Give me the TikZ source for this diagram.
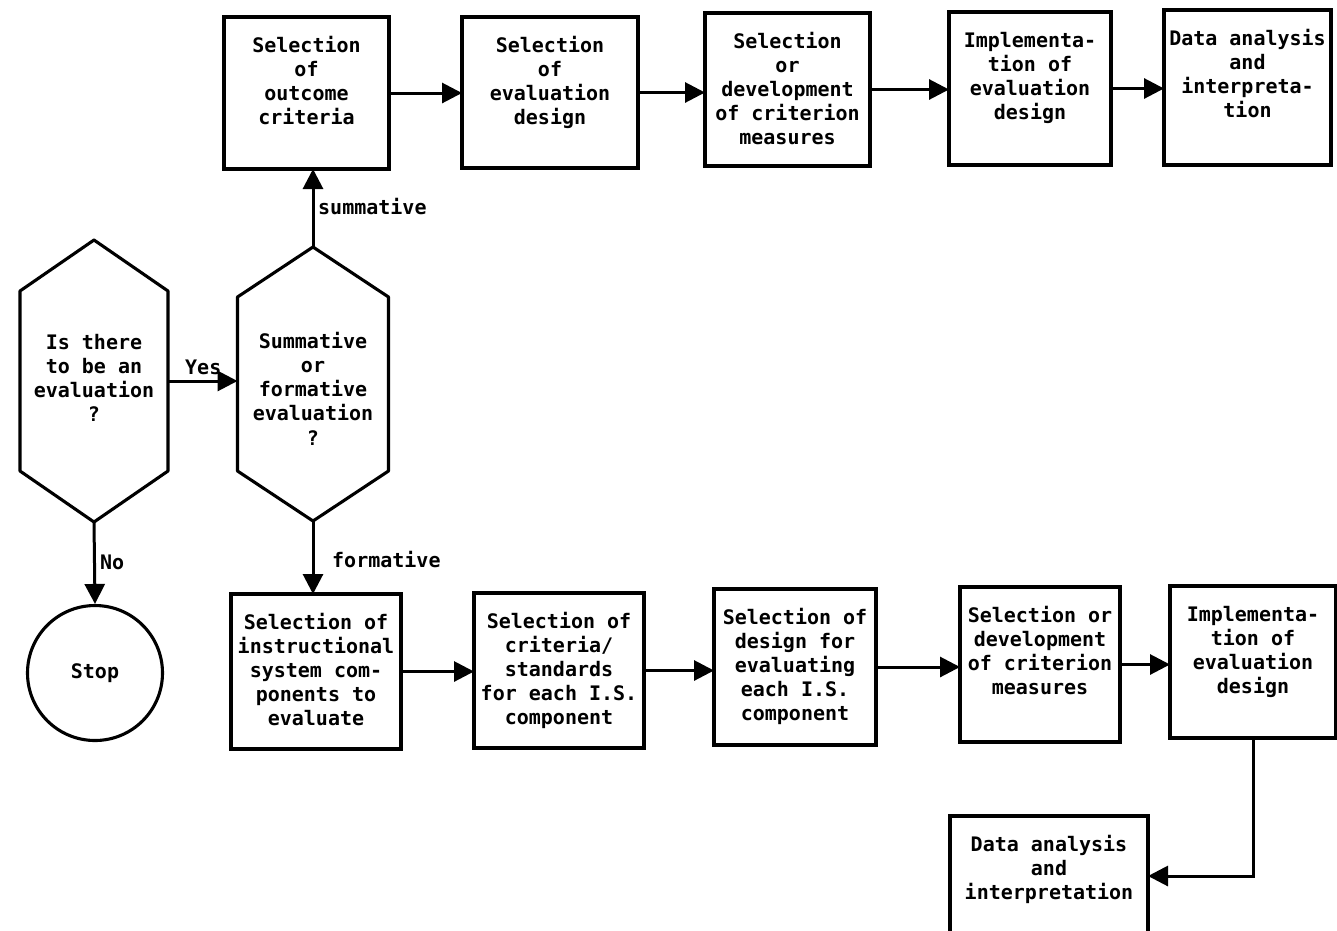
\documentclass[tikz,border=0pt]{standalone}
\usepackage{fontspec}
\setmonofont{DejaVu Sans Mono}
\usetikzlibrary{arrows.meta}
\newcommand{\fs}{\ttfamily\bfseries\fontsize{20}{24.2}\selectfont}
\newcommand{\bxt}[3]{\parbox[c][#1][t]{#2}{\centering\rule{0pt}{35pt}#3\par}}
\newcommand{\hxt}[2]{\raisebox{#1}[0pt][0pt]{\begin{tabular}{@{}c@{}}#2\end{tabular}}}
\tikzset{
  stepbox/.style={draw, line width=3.1pt, inner sep=0pt, outer sep=0pt, font=\fs},
  conn/.style={line width=3pt, -{Triangle[length=20pt,width=20pt]}},
  lbl/.style={font=\fs, inner sep=0pt, anchor=west},
  hexa/.style={inner sep=0pt, outer sep=0pt, align=center, font=\fs},
  hexline/.style={line width=3.1pt, line join=round},
}
\begin{document}
\begin{tikzpicture}[x=1pt,y=-1pt]
\useasboundingbox (0,0) rectangle (1337,930);
\clip (0,0) rectangle (1337,930);
% top row
\node[stepbox] (b1) at (306.5,93) {\bxt{152pt}{165pt}{Selection\\of\\outcome\\criteria}};
\node[stepbox] (b2) at (550,92.5) {\bxt{151pt}{176pt}{Selection\\of\\evaluation\\design}};
\node[stepbox] (b3) at (787.5,89.5) {\bxt{153pt}{165pt}{Selection\\or\\development\\of criterion\\measures}};
\node[stepbox] (b4) at (1030,88.5) {\bxt{153pt}{162pt}{Implementa-\\tion of\\evaluation\\design}};
\node[stepbox] (b5) at (1247.5,87.5) {\bxt{155pt}{167pt}{Data analysis\\and\\interpreta-\\tion}};
% decisions
\node[hexa, minimum width=148pt, minimum height=282pt] (h1) at (94,381) {\hxt{-5pt}{Is there\\to be an\\evaluation\\?}};
\node[hexa, minimum width=151pt, minimum height=274pt] (h2) at (313,384) {\hxt{-13pt}{Summative\\or\\formative\\evaluation\\?}};
\draw[hexline] (h1.north) -- ([yshift=-51pt]h1.north east) -- ([yshift=51pt]h1.south east) -- (h1.south) -- ([yshift=51pt]h1.south west) -- ([yshift=-51pt]h1.north west) -- cycle;
\draw[hexline] (h2.north) -- ([yshift=-50pt]h2.north east) -- ([yshift=50pt]h2.south east) -- (h2.south) -- ([yshift=50pt]h2.south west) -- ([yshift=-50pt]h2.north west) -- cycle;
\node[draw, circle, line width=3.1pt, minimum size=135pt, inner sep=0pt, font=\fs] (stop) at (95,673) {Stop};
% bottom row
\node[stepbox] (c1) at (316,671.5) {\bxt{155pt}{170pt}{Selection of\\instructional\\system com-\\ponents to\\evaluate}};
\node[stepbox] (c2) at (559,670.5) {\bxt{155pt}{170pt}{Selection of\\criteria/\\standards\\for each I.S.\\component}};
\node[stepbox] (c3) at (795,667) {\bxt{156pt}{162pt}{Selection of\\design for\\evaluating\\each I.S.\\component}};
\node[stepbox] (c4) at (1040,664.5) {\bxt{155pt}{160pt}{Selection or\\development\\of criterion\\measures}};
\node[stepbox] (c5) at (1253,662) {\bxt{152pt}{166pt}{Implementa-\\tion of\\evaluation\\design}};
\node[stepbox] (d) at (1049,876) {\bxt{120pt}{198pt}{Data analysis\\and\\interpretation}};
% connectors top
\draw[conn] (b1.east) -- (b1.east -| b2.west);
\draw[conn] (b2.east) -- (b2.east -| b3.west);
\draw[conn] (b3.east) -- (b3.east -| b4.west);
\draw[conn] (b4.east) -- (b4.east -| b5.west);
% decisions connectors
\draw[conn] (h1.east) -- (h1.east -| h2.west);
\node[lbl] (yes) at (185,367) {Yes};
\draw[conn] (h2.north) -- (h2.north |- b1.south);
\node[lbl] (summ) at (318,207) {summative};
\draw[conn] (h1.south) -- (stop.north);
\node[lbl] (no) at (100,562) {No};
\draw[conn] (h2.south) -- (h2.south |- c1.north);
\node[lbl] (form) at (332,559) {formative};
% connectors bottom
\draw[conn] (c1.east) -- (c1.east -| c2.west);
\draw[conn] (c2.east) -- (c2.east -| c3.west);
\draw[conn] (c3.east) -- (c3.east -| c4.west);
\draw[conn] (c4.east) -- (c4.east -| c5.west);
\draw[conn] (c5.south) |- (d.east);
\end{tikzpicture}
\end{document}
